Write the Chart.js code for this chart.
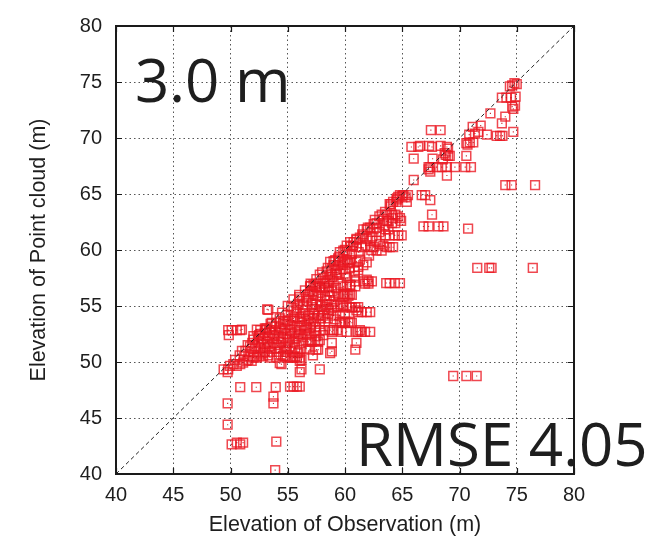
<!DOCTYPE html>
<html><head><meta charset="utf-8">
<script src="https://cdn.jsdelivr.net/npm/chart.js@4/dist/chart.umd.min.js"></script>
<style>html,body{margin:0;padding:0;background:#fff}</style>
</head><body>
<canvas id="c" width="670" height="544"></canvas>
<script>
const xTicks = [40,45,50,55,60,65,70,75,80];
const yTicks = [40,45,50,55,60,65,70,75,80];
const xTitle = 'Elevation of Observation (m)';
const yTitle = 'Elevation of Point cloud (m)';
const labelTop = '3.0 m';
const labelBottom = 'RMSE 4.05';

// [observation elevation, point-cloud elevation]
const upperGroup = [
[74.6,74.7],[75.0,74.8],[74.8,74.9],[74.4,74.6],
[73.7,73.6],[74.1,73.6],[74.5,73.6],[74.9,73.7],
[74.85,72.9],[74.7,72.6],[74.6,72.8],
[72.7,72.2],[74.0,71.9],[73.7,71.3],[74.7,70.55],
[71.85,71.1],[71.15,71.0],
[71.65,70.55],[71.35,70.4],[72.4,70.3],[70.85,70.3],
[73.25,70.2],[73.55,70.2],[73.75,70.2],
[70.6,69.55],[70.9,69.6],[71.2,69.6],[70.7,69.4],
[67.5,70.7],[68.35,70.7],
[65.8,69.2],[66.4,69.2],[66.55,69.3],[67.35,69.3],[67.6,69.2],[68.35,69.3],[68.9,69.2],[69.0,69.05],
[66.0,68.15],[67.65,68.15],
[68.7,68.65],[69.0,68.4],[69.15,68.4],[68.8,68.5],
[70.6,68.4],[68.55,68.1],
[67.3,67.4],[67.45,67.4],[68.0,67.4],[68.45,67.4],[68.9,67.4],[69.6,67.4],[70.5,67.4],[71.0,67.4],[67.3,67.2],[67.45,67.0],
[68.9,66.65],[66.0,66.25],
[74.0,65.8],[74.55,65.8],[76.6,65.8]
];
const midGroup = [
[64.8,64.9],[65.1,64.9],[65.5,64.9],[66.7,64.9],[67.0,64.9],[67.45,64.45],[64.55,64.6],[65.3,64.7],[64.65,64.75],
[64.2,64.3],[64.5,64.3],[65.4,64.3],[64.0,64.1],[63.9,64.1],
[67.6,63.15],
[63.2,63.15],[63.65,63.15],[64.1,63.15],[64.4,63.15],[64.8,62.85],[64.2,62.85],[63.35,62.8],[64.6,63.0],
[62.6,62.7],[62.75,62.4],[63.65,62.55],[63.8,62.6],[64.1,62.4],[64.4,62.4],[64.9,62.6],
[66.85,62.1],[67.3,62.1],[68.15,62.1],[68.6,62.1],[70.75,61.9],
[61.6,61.85],[61.9,61.85],[62.2,62.0],[62.5,61.85],[62.8,62.0],
[63.5,61.85],[63.8,61.85],
[63.5,61.3],[63.9,61.3],[64.35,61.3],[64.65,61.3],[64.95,61.3],
[61.0,61.0],[61.3,61.1],[61.6,61.25],[61.9,60.98],[62.2,60.83],[62.75,60.83],[63.05,60.55],
[60.45,60.7],[60.75,60.7],[60.15,60.4],
[60.7,60.4],[61.0,60.25],[61.45,60.25],[62.2,60.25],[62.5,60.25],[63.35,60.4],[63.65,60.25],[63.9,60.25],[64.2,60.25],
[62.75,59.95],[63.2,59.95],[62.3,60.0],
[59.55,59.8],[59.85,59.95],[60.15,59.8],[60.6,59.65],[61.3,59.15],
[58.7,58.95],[59.15,59.1],[59.4,59.25],[60.15,59.1],[60.45,59.1],
[59.0,58.65],[59.4,58.65],[59.55,58.95],[60.0,58.95],[60.45,58.95],[59.85,58.8],[60.3,58.8],[61.0,58.95],[61.15,58.5],[61.6,58.65],
[58.85,58.35],[59.15,58.2],[59.3,58.0],[59.55,57.9],[60.0,57.9],[60.85,58.1],[61.15,58.2],[60.85,57.7],
[58.4,58.1],[58.7,57.8],[59.3,57.8],[57.8,57.8],[58.1,57.5],
[58.4,57.2],[58.7,57.35],[59.0,57.2],[58.55,57.05],
[61.6,57.2],[62.05,57.2],[62.35,57.2],[61.75,57.0],[62.05,57.0],[60.9,57.2],[61.9,57.35],
[63.6,57.05],[63.9,57.05],[64.35,57.05],[64.8,57.05],
[60.15,56.9],[60.45,56.9],
[58.85,56.3],[59.85,56.05],[60.15,56.05],[60.45,56.05],[60.6,56.0],[59.9,55.9],[60.3,55.9],
[59.85,56.75],[60.45,56.75],[60.9,56.75],
[59.85,54.85],[60.6,54.85],[61.15,54.45],[61.45,54.45],[61.9,54.45],[62.2,54.45],[61.0,54.6],
[59.85,55.0],[60.15,55.0],[60.45,54.9],[60.9,54.9],[61.15,54.9],
[59.7,53.5],[60.0,53.5],[60.3,53.5],[60.6,53.5],
[61.15,52.7],[61.45,52.7],[61.75,52.7],[62.2,52.7],[61.3,52.85],
[59.7,52.7],[60.15,52.7],[61.0,52.7],
[61.0,51.7],[60.9,51.1],
[58.6,56.8],[59.2,56.6],[59.6,57.0],[60.2,57.5],[58.9,57.6],[59.8,58.3],[60.4,58.4],[61.2,59.8],[61.8,60.4],
[62.4,61.2],[63.0,61.6],[63.4,62.2],[62.1,59.5],[61.9,58.9]
];
const rightOutliers = [
[71.55,58.4],[72.6,58.4],[72.8,58.4],[76.4,58.4],
[69.45,48.75],[70.6,48.75],[71.5,48.75]
];
const coreGroup = [
[55.0,55.0],[55.5,55.6],[56.0,56.0],[56.5,56.4],[57.0,57.0],[57.5,57.4],[58.0,58.0],[58.5,58.4],[59.0,59.0],[59.5,59.4],
[60.0,60.0],[60.5,60.3],[61.0,60.9],[61.5,61.4],[62.0,62.0],[62.5,62.3],[63.0,63.0],[63.5,63.4],[64.0,63.9],[64.5,64.5],[65.0,64.8],
[51.0,51.0],[51.5,51.5],[52.0,52.0],[52.5,52.4],[53.0,53.0],[53.5,53.4],[54.0,54.0],[54.5,54.4],
[57.25,56.9],[57.5,56.75],[57.8,56.6],[58.25,56.6],[58.55,56.3],
[56.95,56.3],[57.25,56.05],[57.5,55.9],
[56.95,56.75],[57.4,56.75],[57.8,56.75],[57.95,56.45],[57.1,56.3],[56.8,56.05],[57.65,55.9],[58.25,55.9],[58.7,55.9],[59.0,55.9],[59.4,56.05],[60.0,56.05],
[56.05,55.45],[56.35,55.15],[56.65,55.45],[57.1,55.15],[57.5,55.15],[57.95,55.0],[58.4,55.15],[58.85,55.15],[59.3,55.0],[59.55,55.15],
[55.5,54.6],[55.8,54.45],[56.35,54.3],[56.8,54.15],[57.25,54.3],[57.65,54.15],[58.1,54.15],[58.55,54.3],[59.0,54.15],[59.55,54.15],[60.0,54.3],
[56.35,54.9],
[54.6,53.7],[55.05,53.7],[55.5,53.7],[56.05,53.85],[56.65,53.7],[57.25,53.6],[57.8,53.4],[58.25,53.6],
[59.55,53.6],[60.0,53.6],[60.45,53.6],
[53.45,52.85],[53.9,52.85],[54.3,53.0],[54.75,53.0],[55.2,52.85],[55.65,52.7],[56.05,52.85],[56.5,52.85],[56.95,53.0],[57.4,53.15],
[57.4,52.85],[57.8,52.85],[58.25,52.85],[58.7,52.85],[59.0,52.85],[59.3,52.85],[58.85,52.7],
[52.0,52.3],[52.45,52.3],[52.85,52.1],[53.3,52.3],[53.75,52.1],[54.2,52.3],[54.6,52.1],[55.2,52.3],[55.9,52.3],
[56.95,51.95],[57.4,51.95],[57.8,51.95],[57.1,51.8],[57.65,51.8],[56.95,51.1],[57.65,51.1],[57.5,51.1],[58.85,51.7],[58.85,50.95],[58.7,50.8],
[51.7,51.4],[52.15,51.4],[52.6,51.25],[53.0,51.25],[53.45,51.4],[53.9,51.25],[54.3,51.25],[54.75,51.4],[55.2,51.4],[55.65,51.25],[56.05,51.1],
[51.7,50.5],[52.3,50.4],[52.85,50.5],[53.45,50.4],[54.0,50.4],[54.6,50.5],[55.2,50.4],[55.65,50.5],
[54.75,50.5],[54.9,50.4],[55.5,50.4],[55.8,50.4],[56.05,50.4],[56.2,50.2],
[54.3,49.9],[54.45,49.8],
[56.05,50.1],[56.2,49.35],[56.05,49.1],[57.8,49.35],
[53.0,52.6],[53.6,52.6],[54.2,52.6],[54.8,52.5],[55.4,52.6],[56.0,52.5],[56.6,52.4],[54.0,53.5],[54.6,53.4],[55.2,53.3],
[55.8,53.2],[56.4,53.3],[57.0,53.4],[55.0,54.2],[55.6,54.0],[56.2,54.0],[56.8,53.9],[57.4,54.7],[58.0,54.7],[58.6,54.6],
[56.0,55.8],[56.6,55.8],[57.2,55.5],[57.8,55.4],[58.4,55.5],[59.0,55.4],[57.0,56.8],[57.6,57.0],[58.2,57.0],
[53.2,51.8],[53.8,51.7],[54.4,51.8],[55.0,51.7],[55.6,51.8],[56.2,51.7],[56.8,51.8],[52.4,51.8],[51.9,51.2],
[52.4,50.9],[53.0,50.9],[53.6,50.9],[54.2,50.9],[54.8,50.9],[55.4,50.9],
[52.7,51.9],[53.3,51.6],[53.9,52.4],[54.5,52.8],[55.1,52.0],[55.7,52.1],[56.3,52.2],[56.9,52.5],[57.5,52.3],[58.1,52.4],
[54.1,51.5],[54.9,51.1],[55.9,50.8],[56.6,51.2],[57.2,50.6],[53.3,50.6],[52.9,51.6],
[55.3,54.9],[55.9,55.1],[56.5,54.6],[57.1,54.9],[57.7,54.5],[58.3,54.9],[58.9,54.8],
[54.3,53.9],[54.9,53.6],[55.5,53.9],[56.1,53.6],[56.7,53.1],[57.3,53.9],[57.9,53.9],[58.5,53.9],[59.1,53.8],
[53.6,53.5],[53.1,52.9],[52.6,52.5],[51.9,51.7],[51.3,51.0],[50.8,50.6],[50.4,50.2],[51.2,50.5]
];
const lowerGroup = [
[49.8,52.85],[50.1,52.85],[50.55,52.85],[50.85,52.85],[51.0,52.9],[49.85,52.4],
[52.3,52.9],[52.6,52.85],[53.15,53.0],[53.6,53.15],
[53.3,54.65],[53.2,54.7],
[49.4,49.35],[49.75,49.1],[49.8,49.35],[49.95,49.65],[50.25,49.8],[50.55,49.65],[50.85,49.8],[51.1,49.95],
[51.4,50.1],[51.55,50.2],[51.85,50.1],[52.0,50.4],[52.3,50.5],[52.6,50.65],[52.85,50.8],
[50.85,47.75],[52.25,47.75],[53.95,47.75],[55.2,47.8],[55.5,47.8],[55.8,47.8],[56.05,47.8],
[53.75,46.9],[53.75,46.3],[49.75,46.3],[49.75,44.4],
[50.1,42.65],[50.55,42.8],[50.85,42.65],[51.1,42.8],[54.0,42.9],[53.9,40.35]
];
const diagonal = [40, 80];

const points = [...upperGroup, ...midGroup, ...rightOutliers, ...coreGroup, ...lowerGroup].map(([x, y]) => ({x, y}));

const decor = {
  id: 'decor',
  afterDraw(chart) {
    const {ctx, chartArea: a, scales: {x, y}} = chart;
    ctx.save();
    ctx.strokeStyle = '#1a1a1a';
    ctx.lineWidth = 1.2;
    ctx.setLineDash([]);
    ctx.beginPath();
    xTicks.forEach(v => {
      const p = Math.round(x.getPixelForValue(v)) + 0.5;
      ctx.moveTo(p, a.bottom); ctx.lineTo(p, a.bottom - 6);
      ctx.moveTo(p, a.top); ctx.lineTo(p, a.top + 6);
    });
    yTicks.forEach(v => {
      const p = Math.round(y.getPixelForValue(v)) + 0.5;
      ctx.moveTo(a.left, p); ctx.lineTo(a.left + 6, p);
      ctx.moveTo(a.right, p); ctx.lineTo(a.right - 6, p);
    });
    ctx.stroke();
    ctx.lineWidth = 2;
    ctx.strokeRect(a.left, a.top, a.right - a.left, a.bottom - a.top);
    ctx.fillStyle = '#1e1e1e';
    ctx.font = '60px "Open Sans"';
    ctx.textBaseline = 'alphabetic';
    ctx.fillText(labelTop, a.left + 19, a.top + 76);
    ctx.fillText(labelBottom, a.left + 240, a.top + 440);
    ctx.restore();
  }
};

const tickFont = {family: '"Liberation Sans", Arial, sans-serif', size: 20};
const titleFont = {family: '"Liberation Sans", Arial, sans-serif', size: 21.5};

new Chart(document.getElementById('c'), {
  type: 'scatter',
  data: {
    datasets: [
      {
        type: 'line',
        data: diagonal.map(v => ({x: v, y: v})),
        borderColor: '#222',
        borderWidth: 1,
        borderDash: [4, 3],
        pointRadius: 0,
        fill: false
      },
      {
        data: points,
        pointStyle: 'rect',
        pointRadius: 0.8,
        pointBorderWidth: 0,
        pointBackgroundColor: 'rgba(200,20,30,0.9)'
      },
      {
        data: points,
        pointStyle: 'rect',
        pointRadius: 6.2,
        pointBorderWidth: 1.5,
        pointBorderColor: 'rgba(235,25,35,0.8)',
        pointBackgroundColor: 'rgba(255,255,255,0)'
      }
    ]
  },
  options: {
    responsive: false,
    animation: false,
    layout: {padding: {left: 0, right: 96, top: 15, bottom: 0}},
    plugins: {legend: {display: false}, tooltip: {enabled: false}},
    scales: {
      x: {
        type: 'linear', min: 40, max: 80,
        afterBuildTicks: s => { s.ticks = xTicks.map(v => ({value: v})); },
        afterFit: s => { s.height = 70; },
        grid: {color: '#555', lineWidth: 1, drawTicks: false},
        border: {display: false, dash: [1.5, 3]},
        ticks: {font: tickFont, color: '#1e1e1e', padding: 9, maxRotation: 0},
        title: {display: true, text: xTitle, font: titleFont, color: '#1e1e1e', padding: {top: 0, bottom: 6}}
      },
      y: {
        type: 'linear', min: 40, max: 80,
        afterBuildTicks: s => { s.ticks = yTicks.map(v => ({value: v})); },
        afterFit: s => { s.width = 116; },
        grid: {color: '#555', lineWidth: 1, drawTicks: false},
        border: {display: false, dash: [1.5, 3]},
        ticks: {font: tickFont, color: '#1e1e1e', padding: 14},
        title: {display: true, text: yTitle, font: titleFont, color: '#1e1e1e', padding: {top: 26, bottom: 0}}
      }
    }
  },
  plugins: [decor]
});
</script>
</body></html>
